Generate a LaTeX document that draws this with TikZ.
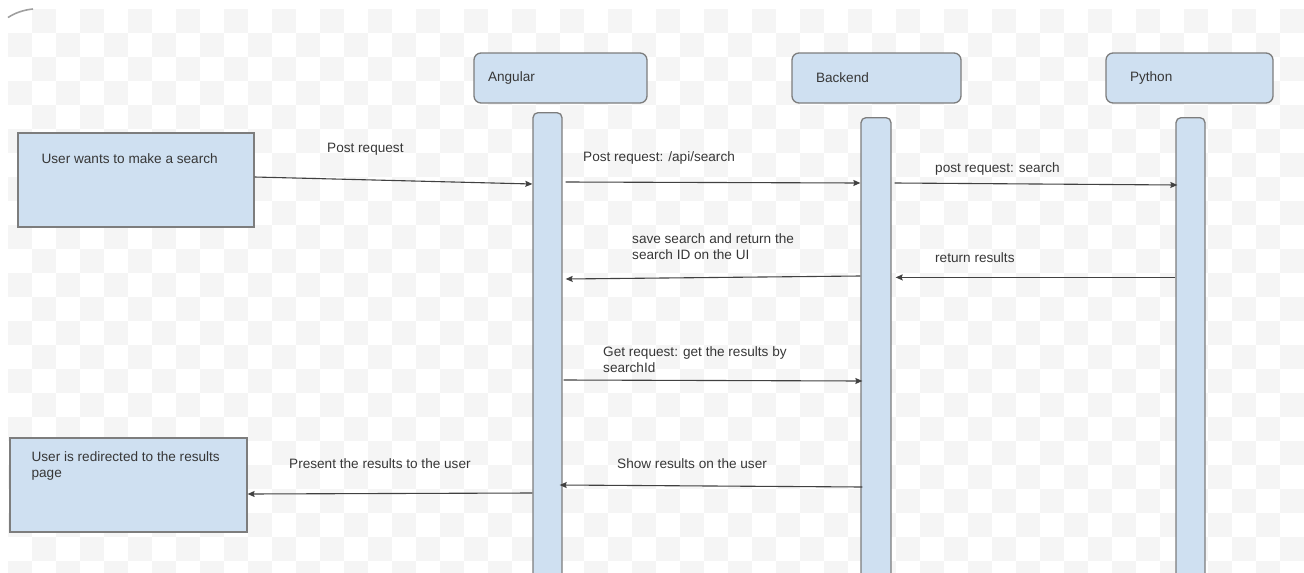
\documentclass[tikz,border=0pt]{standalone}
\usepackage{fontspec}
\setmainfont{Liberation Sans}
\usetikzlibrary{arrows.meta}
\definecolor{boxfill}{RGB}{207,224,241}
\definecolor{boxline}{RGB}{125,125,125}
\definecolor{arrowc}{RGB}{65,65,65}
\definecolor{txt}{RGB}{55,55,55}
\definecolor{chk}{RGB}{245,245,245}
\tikzset{
  head/.style={draw=boxline, fill=boxfill, line width=1.3pt, rounded corners=7pt, minimum height=50pt, inner ysep=0pt, align=left, font=\fontsize{13.6}{16}\selectfont, text=txt},
  life/.style={draw=boxline, fill=boxfill, line width=1.3pt, rounded corners=5pt, anchor=north, minimum height=480pt, inner sep=0pt},
  ubox/.style={draw=boxline, fill=boxfill, line width=1.2pt, minimum height=94pt, inner sep=0pt},
  lbl/.style={inner sep=0pt, anchor=west, align=left, text=txt, font=\fontsize{13.6}{16}\selectfont},
  msg/.style={draw=arrowc, line width=1.1pt, -{Stealth[length=7pt,width=6pt,inset=1pt]}},
}
\begin{document}
\begin{tikzpicture}[x=1pt,y=-1pt]
\useasboundingbox (0,0) rectangle (1304,573);
\clip (0,0) rectangle (1304,573);
% checkerboard background
\foreach \r in {0,...,23}{
  \foreach \c in {0,...,54}{
    \pgfmathtruncatemacro\s{mod(\r+\c,2)}
    \ifnum\s=1
      \fill[chk] (8+24*\c,9+24*\r) rectangle ++(24,24);
    \fi
  }
}
\draw[gray!75, line width=1.6pt] (8,17.5) .. controls (15,13) and (23,10) .. (33,9);

% participants
\node[head, minimum width=173pt, text width=145pt, inner xsep=14pt] (ang) at (560.5,78) {Angular};
\node[head, minimum width=169pt, text width=121pt, inner xsep=24pt] (back) at (876.5,78) {Backend};
\node[head, minimum width=167pt, text width=119pt, inner xsep=24pt] (py) at (1189.5,78) {Python};

% lifelines
\node[life, minimum width=29pt] (angL) at (547.5,112) {};
\node[life, minimum width=30pt] (backL) at (876,117) {};
\node[life, minimum width=29pt] (pyL) at (1190.5,117) {};

% user boxes
\node[ubox, minimum width=236pt,
  label={[lbl, anchor=west, xshift=24pt, yshift=-26pt]north west:User wants to make a search}] (u1) at (136,180) {};
\node[ubox, minimum width=237pt,
  label={[lbl, anchor=west, xshift=22pt, yshift=-28.5pt]north west:User is redirected to the results\\page}] (u2) at (128.5,485) {};

% messages
\draw[msg] (u1.east |- 0,177) -- (angL.west |- 0,184);
\draw[msg] ([xshift=3pt]angL.east |- 0,182) -- (backL.west |- 0,183);
\draw[msg] ([xshift=3pt]backL.east |- 0,183) -- ([xshift=2pt]pyL.west |- 0,185);
\draw[msg] (backL.west |- 0,276) -- ([xshift=3pt]angL.east |- 0,279);
\draw[msg] (pyL.west |- 0,277.4) -- ([xshift=4pt]backL.east |- 0,277.4);
\draw[msg] ([xshift=1pt]angL.east |- 0,380) -- ([xshift=2pt]backL.west |- 0,381);
\draw[msg] ([xshift=2pt]backL.west |- 0,487) -- ([xshift=-3pt]angL.east |- 0,485);
\draw[msg] (angL.west |- 0,493) -- (u2.east |- 0,494);

% labels
\node[lbl] (l1) at (327,149) {Post request};
\node[lbl] (l2) at (583,158) {Post request: /api/search};
\node[lbl] (l3) at (935,169) {post request: search};
\node[lbl] (l4) at (632,246.5) {save search and return the\\search ID on the UI};
\node[lbl] (l5) at (935,258) {return results};
\node[lbl] (l6) at (603,360) {Get request: get the results by\\searchId};
\node[lbl] (l7) at (617,464) {Show results on the user};
\node[lbl] (l8) at (289,464) {Present the results to the user};
\end{tikzpicture}
\end{document}
